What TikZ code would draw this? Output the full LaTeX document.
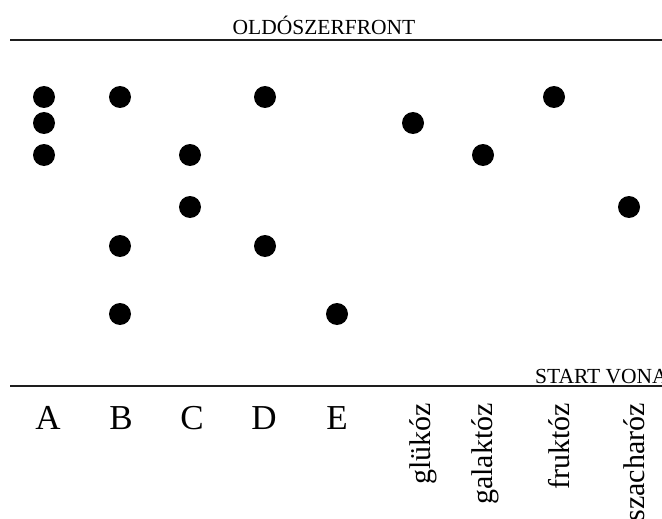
\documentclass[tikz,border=0pt]{standalone}
\usepackage{fontspec}
\setmainfont{Liberation Serif}
\usepackage{tikz}
\definecolor{spotblack}{RGB}{0,0,0}
\definecolor{linegray}{RGB}{30,30,30}

\begin{document}
\begin{tikzpicture}[x=1pt, y=-1pt,
  spot/.style={circle, fill=spotblack, inner sep=0pt, minimum size=22pt},
  lane/.style={anchor=base, inner sep=0pt, font=\fontsize{35}{40}\selectfont},
  sugar/.style={rotate=90, anchor=east, inner sep=0pt, font=\fontsize{30}{34}\selectfont},
  caption/.style={anchor=base west, inner sep=0pt, font=\fontsize{21.5}{25}\selectfont},
  rule/.style={draw=linegray, line width=1.6pt}]
\useasboundingbox (0,0) rectangle (662,519);
\clip (0,0) rectangle (662,519);
% front and start line
\coordinate (frontL) at (10,40); \coordinate (frontR) at (662,40);
\coordinate (startL) at (10,386); \coordinate (startR) at (662,386);
\draw[rule] (frontL) -- (frontR);
\draw[rule] (startL) -- (startR);
\node[caption, anchor=base] (front) at (324,35) {OLDÓSZERFRONT};
\node[caption] (start) at (535,383) {START VONA};
% spots of the samples
\node[spot] (a1) at (44,97) {}; \node[spot] (a2) at (44,123) {}; \node[spot] (a3) at (44,155) {};
\node[spot] (b1) at (120,97) {}; \node[spot] (b2) at (120,246) {}; \node[spot] (b3) at (120,314) {};
\node[spot] (c1) at (190,155) {}; \node[spot] (c2) at (190,207) {};
\node[spot] (d1) at (265,97) {}; \node[spot] (d2) at (265,246) {};
\node[spot] (e1) at (337,314) {};
% spots of the standards
\node[spot] (glu) at (413,123) {};
\node[spot] (gal) at (483,155) {};
\node[spot] (fru) at (554,97) {};
\node[spot] (sza) at (629,207) {};
% lane labels
\node[lane] (labA) at (48,429) {A};
\node[lane] (labB) at (121,429) {B};
\node[lane] (labC) at (192,429) {C};
\node[lane] (labD) at (264,429) {D};
\node[lane] (labE) at (337,429) {E};
\node[sugar] (labglu) at (423,403) {glükóz};
\node[sugar] (labgal) at (485,403) {galaktóz};
\node[sugar] (labfru) at (559,403) {fruktóz};
\node[sugar] (labsza) at (634,403) {szacharóz};
\end{tikzpicture}
\end{document}
